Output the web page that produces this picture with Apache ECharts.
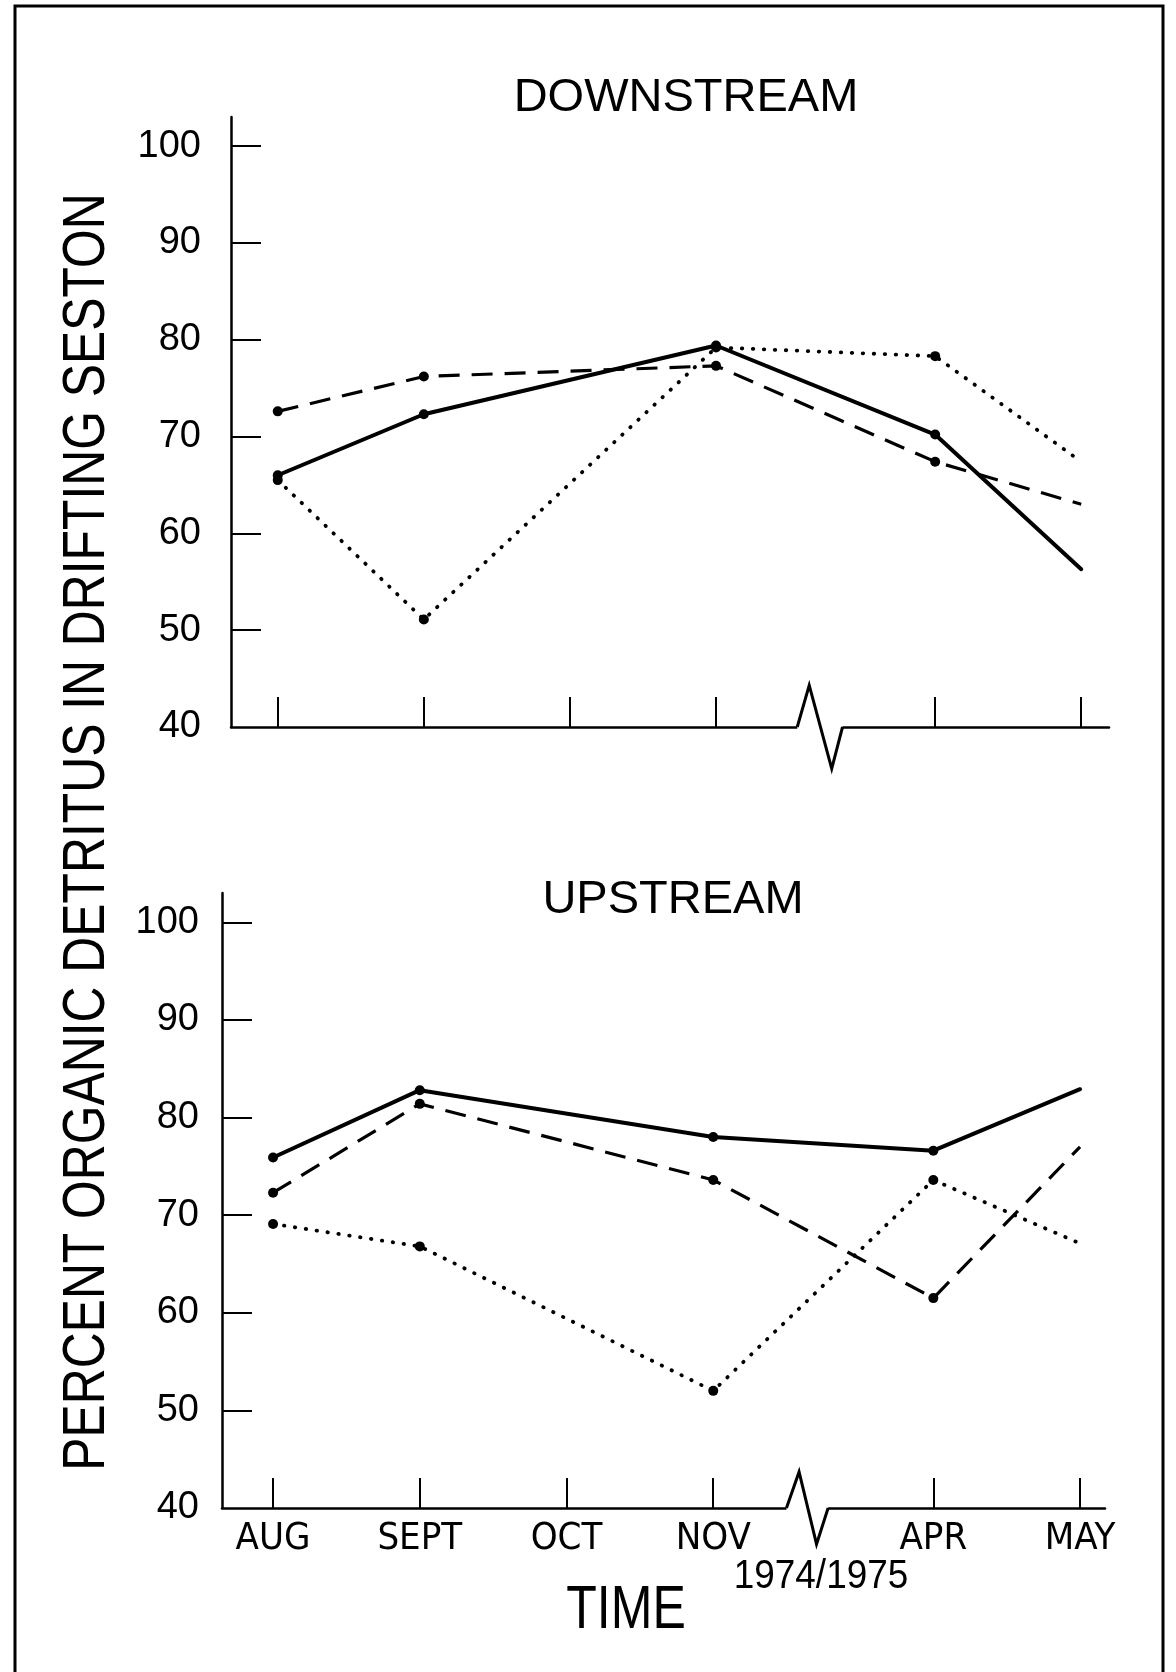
<!DOCTYPE html>
<html><head><meta charset="utf-8">
<script src="https://cdn.jsdelivr.net/npm/echarts@6/dist/echarts.min.js"></script>
<style>html,body{margin:0;padding:0;background:#fff}#c{width:1176px;height:1672px}</style>
</head><body><div id="c"></div>
<script>
// ---- data ----
const months = ['AUG','SEPT','OCT','NOV','APR','MAY'];
const monthIndex = [0, 1, 2, 3, 4.5, 5.5];          // time position of each month (gap Nov -> Apr)
const yTickValues = [40, 50, 60, 70, 80, 90, 100];
const sampleMonths = ['AUG','SEPT','NOV','APR','MAY'];

const downSolid  = [66.0, 72.3, 79.4, 70.2, 56.3];
const downDashed = [72.6, 76.2, 77.3, 67.4, 63.0];
const downDotted = [65.5, 51.1, 79.2, 78.3, 67.4];

const upSolid  = [75.9, 82.8, 78.0, 76.6, 82.9];
const upDashed = [72.3, 81.4, 73.6, 61.5, 77.0];
const upDotted = [69.1, 66.8, 52.0, 73.6, 67.1];

// axis-break zigzag (in axis units)
const breakDownX = [3.556, 3.638, 3.792, 3.866];
const breakDownY = [40, 44.3, 35.7, 40];
const breakUpX = [3.499, 3.585, 3.704, 3.783];
const breakUpY = [40, 43.7, 36.3, 40];

// ---- chart ----
const chart = echarts.init(document.getElementById('c'), null, {renderer: 'canvas'});
const BLACK = '#000';
const NARROW = '"DejaVu Sans Condensed", "Liberation Sans Narrow", "Liberation Sans", sans-serif';

function lineSeries(values, style, g) {
  const data = values.map((v, i) => {
    const x = monthIndex[months.indexOf(sampleMonths[i])];
    const item = {value: [x, v]};
    if (sampleMonths[i] === 'MAY') item.symbol = 'none';
    return item;
  });
  let ls;
  if (style === 'solid') ls = {color: BLACK, width: 4, type: 'solid', cap: 'round', join: 'round'};
  else if (style === 'dashed') ls = {color: BLACK, width: 3.2, type: [21, 12], cap: 'butt'};
  else ls = {color: BLACK, width: 3.8, type: [0.5, 10.5], cap: 'round'};
  return {
    type: 'line', xAxisIndex: g, yAxisIndex: g, data: data,
    symbol: 'circle', symbolSize: 10, showAllSymbol: true,
    itemStyle: {color: BLACK}, lineStyle: ls, silent: true, animation: false, z: 3
  };
}

function breakSeries(bx, by, g) {
  return {
    type: 'custom', xAxisIndex: g, yAxisIndex: g, data: [[bx[0], by[0]]], silent: true, clip: false, z: 6,
    animation: false,
    renderItem: function (params, api) {
      const pts = bx.map((x, i) => api.coord([x, by[i]]));
      return {type: 'group', children: [
        {type: 'line', shape: {x1: pts[0][0], y1: pts[0][1], x2: pts[3][0], y2: pts[3][1]},
         style: {stroke: '#fff', lineWidth: 7}},
        {type: 'polyline', shape: {points: pts}, style: {stroke: BLACK, lineWidth: 3, fill: null, lineJoin: 'miter'}}
      ]};
    }
  };
}

function xAxisCfg(g, min, max, showLabels) {
  return {
    type: 'value', gridIndex: g, min: min, max: max,
    axisLine: {show: true, onZero: false, lineStyle: {color: BLACK, width: 2.5}},
    axisTick: {show: true, inside: true, length: 30, customValues: monthIndex, lineStyle: {color: BLACK, width: 2}},
    axisLabel: {show: showLabels, customValues: monthIndex,
      formatter: v => { const k = monthIndex.indexOf(v); return k >= 0 ? months[k] : ''; },
      fontFamily: NARROW, fontSize: 38, color: BLACK, margin: 12},
    splitLine: {show: false}
  };
}
function yAxisCfg(g, margin) {
  return {
    type: 'value', gridIndex: g, min: 40, max: 103,
    axisLine: {show: true, onZero: false, lineStyle: {color: BLACK, width: 2.5}},
    axisTick: {show: true, inside: true, length: 30, customValues: yTickValues.filter(v => v > 40), lineStyle: {color: BLACK, width: 2}},
    axisLabel: {customValues: yTickValues, fontFamily: '"Liberation Sans"', fontSize: 38, color: BLACK, margin: margin},
    splitLine: {show: false}
  };
}

const txt = (t, x, y, font, extra) => Object.assign({
  type: 'text', x: x, y: y, silent: true,
  style: {text: t, font: font, fill: BLACK, align: 'center', verticalAlign: 'middle'}
}, extra || {});

chart.setOption({
  backgroundColor: '#fff',
  animation: false,
  grid: [
    {left: 231, top: 117, width: 878, height: 610},
    {left: 222, top: 893, width: 883, height: 615}
  ],
  xAxis: [xAxisCfg(0, -0.32, 5.69, false), xAxisCfg(1, -0.348, 5.67, true)],
  yAxis: [yAxisCfg(0, 30), yAxisCfg(1, 23)],
  series: [
    lineSeries(downSolid, 'solid', 0),
    lineSeries(downDashed, 'dashed', 0),
    lineSeries(downDotted, 'dotted', 0),
    lineSeries(upSolid, 'solid', 1),
    lineSeries(upDashed, 'dashed', 1),
    lineSeries(upDotted, 'dotted', 1),
    breakSeries(breakDownX, breakDownY, 0),
    breakSeries(breakUpX, breakUpY, 1)
  ],
  graphic: [
    {type: 'rect', shape: {x: 15, y: 6, width: 1148, height: 1700}, style: {stroke: BLACK, lineWidth: 3, fill: null}, silent: true, z: -1},
    txt('DOWNSTREAM', 686, 98, '47px "Liberation Sans"'),
    txt('UPSTREAM', 673, 900, '47px "Liberation Sans"'),
    txt('PERCENT ORGANIC DETRITUS IN DRIFTING SESTON', 87, 832, '60px "Liberation Sans"', {rotation: Math.PI / 2, scaleX: 0.83}),
    txt('TIME', 626, 1611, '61px "Liberation Sans"', {scaleX: 0.82}),
    txt('1974/1975', 821, 1577, '41px "Liberation Sans"', {scaleX: 0.9})
  ]
});
</script>
</body></html>
